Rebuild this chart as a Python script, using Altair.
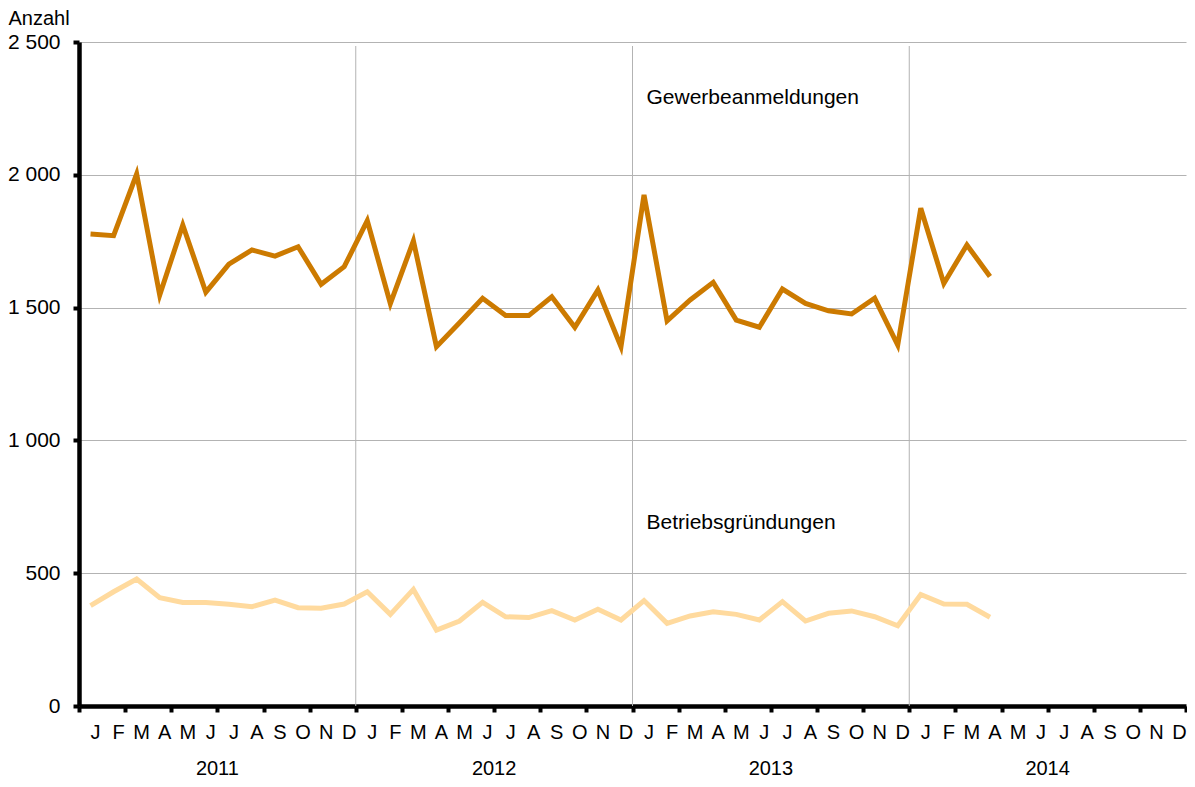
import altair as alt
import pandas as pd

month_letters = ["J", "F", "M", "A", "M", "J", "J", "A", "S", "O", "N", "D"]
years = ["2011", "2012", "2013", "2014"]
series_names = ["Gewerbeanmeldungen", "Betriebsgründungen"]

gewerbeanmeldungen = [1777, 1771, 2003, 1547, 1811, 1558, 1664, 1717, 1694, 1729, 1588, 1654,
                      1827, 1515, 1751, 1353, 1443, 1535, 1470, 1470, 1541, 1426, 1566, 1353,
                      1924, 1450, 1529, 1595, 1453, 1426, 1570, 1516, 1488, 1476, 1535, 1359,
                      1874, 1591, 1736, 1617]
betriebsgruendungen = [378, 430, 478, 408, 390, 390, 383, 374, 399, 370, 368, 384,
                       430, 345, 439, 286, 320, 390, 336, 333, 359, 324, 364, 324,
                       397, 311, 339, 355, 345, 324, 393, 320, 349, 358, 336, 302,
                       420, 384, 383, 334]
y_ticks = [0, 500, 1000, 1500, 2000, 2500]

n_months = len(years) * 12
n = len(gewerbeanmeldungen)

df = pd.DataFrame({
    "pos": [i + 0.5 for i in range(n)],
    series_names[0]: gewerbeanmeldungen,
    series_names[1]: betriebsgruendungen,
})
long = df.melt("pos", var_name="serie", value_name="anzahl")

mdf = pd.DataFrame({"pos": [i + 0.5 for i in range(n_months)],
                    "label": [month_letters[i % 12] for i in range(n_months)]})
ydf = pd.DataFrame({"pos": [12 * k + 6 for k in range(len(years))], "label": years})
gdf = pd.DataFrame({"pos": [12 * k for k in range(1, len(years))]})

FONT = "Liberation Sans"
GRID = "#b3b3b3"
xscale = alt.Scale(domain=[0, n_months], nice=False, zero=False)
yscale = alt.Scale(domain=[0, 2500], nice=False)

vgrid = alt.Chart(gdf).mark_rule(color=GRID, strokeWidth=1).encode(
    x=alt.X("pos:Q", scale=xscale, title=None),
    y=alt.value(4),
    y2=alt.value(664),
)

lines = alt.Chart(long).mark_line(strokeWidth=5).encode(
    x=alt.X("pos:Q", scale=xscale, title=None,
            axis=alt.Axis(values=list(range(n_months + 1)), labels=False, grid=False,
                          tickSize=6, tickWidth=4, tickColor="black",
                          domainColor="black", domainWidth=4.5)),
    y=alt.Y("anzahl:Q", scale=yscale, title="Anzahl",
            axis=alt.Axis(values=y_ticks, grid=True, gridColor=GRID, gridWidth=1,
                          tickSize=6, tickWidth=4, tickColor="black",
                          domainColor="black", domainWidth=4.5,
                          labelExpr="replace(format(datum.value, ','), ',', ' ')",
                          labelFont=FONT, labelFontSize=21, labelColor="black",
                          labelPadding=13,
                          titleFont=FONT, titleFontSize=20, titleFontWeight="normal",
                          titleColor="black", titleAngle=0, titleAlign="left",
                          titleBaseline="middle", titleX=-71, titleY=-23.5)),
    color=alt.Color("serie:N", scale=alt.Scale(domain=series_names,
                                               range=["#cc7a00", "#ffda9e"]),
                    legend=None),
    detail="serie:N",
)

month_text = alt.Chart(mdf).mark_text(font=FONT, fontSize=20, dx=5, baseline="middle",
                                      color="black").encode(
    x=alt.X("pos:Q", scale=xscale, title=None),
    y=alt.value(691),
    text="label:N",
)

year_text = alt.Chart(ydf).mark_text(font=FONT, fontSize=20, baseline="middle",
                                     color="black").encode(
    x=alt.X("pos:Q", scale=xscale, title=None),
    y=alt.value(727),
    text="label:N",
)

lab1 = alt.Chart(pd.DataFrame({"t": [series_names[0]]})).mark_text(
    font=FONT, fontSize=21, align="left", baseline="middle", color="black").encode(
    x=alt.value(567.5), y=alt.value(56), text="t:N")
lab2 = alt.Chart(pd.DataFrame({"t": [series_names[1]]})).mark_text(
    font=FONT, fontSize=21, align="left", baseline="middle", color="black").encode(
    x=alt.value(567.5), y=alt.value(481), text="t:N")

chart = alt.layer(vgrid, lines, month_text, year_text, lab1, lab2).properties(
    width=1107, height=664, autosize="none",
    padding={"left": 71, "top": 34, "right": 1, "bottom": 72},
).configure_view(stroke=None)

chart.save("out.html", embed_options={"renderer": "svg", "actions": False})
